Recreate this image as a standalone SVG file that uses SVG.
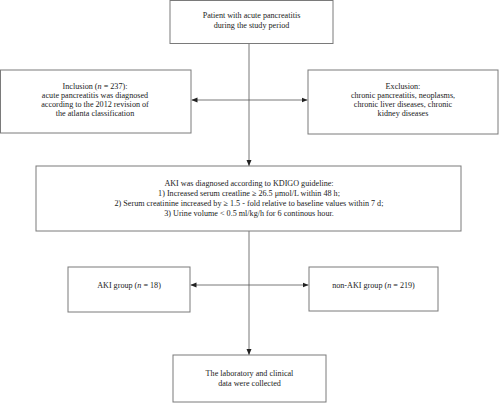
<svg xmlns="http://www.w3.org/2000/svg" width="500" height="403" viewBox="0 0 500 403">
<style>
.box{fill:#fff;stroke:#7a7a7a;stroke-width:1}
.ln{stroke:#555;stroke-width:0.8;fill:none}
text{font-family:"Liberation Serif","Times New Roman",serif;font-size:8.15px;fill:#222;text-anchor:middle}
</style>
<defs>
<marker id="ah" viewBox="0 0 6 6" refX="6" refY="3" markerWidth="6" markerHeight="6" markerUnits="userSpaceOnUse" orient="auto-start-reverse">
<path d="M0,0.5 L6,3 L0,5.5 Z" fill="#222"/>
</marker>
</defs>
<rect width="500" height="403" fill="#fff"/>
<g id="connectors">
<line class="ln" x1="249" y1="43" x2="249" y2="166" marker-end="url(#ah)"/>
<line class="ln" x1="191.5" y1="100" x2="307.5" y2="100" marker-start="url(#ah)" marker-end="url(#ah)"/>
<line class="ln" x1="249" y1="231" x2="249" y2="355" marker-end="url(#ah)"/>
<line class="ln" x1="190.5" y1="285" x2="308.5" y2="285" marker-start="url(#ah)" marker-end="url(#ah)"/>
</g>
<g id="patient">
<rect class="box" x="170" y="0.5" width="163" height="43"/>
<text x="251.5" y="17.5">Patient with acute pancreatitis</text>
<text x="251.5" y="27.5">during the study period</text>
</g>
<g id="inclusion">
<rect class="box" x="0.5" y="70" width="190.5" height="63"/>
<text x="95" y="88.5">Inclusion (<tspan font-style="italic">n</tspan> = 237):</text>
<text x="95" y="97.5">acute pancreatitis was diagnosed</text>
<text x="95" y="106.5">according to the 2012 revision of</text>
<text x="95" y="115.5">the atlanta classification</text>
</g>
<g id="exclusion">
<rect class="box" x="308" y="70" width="190" height="64"/>
<text x="403" y="88.5">Exclusion:</text>
<text x="403" y="97.5">chronic pancreatitis, neoplasms,</text>
<text x="403" y="106.5">chronic liver diseases, chronic</text>
<text x="403" y="115.5">kidney diseases</text>
</g>
<g id="aki-criteria">
<rect class="box" x="36" y="166" width="425" height="65"/>
<text x="249" y="185.5">AKI was diagnosed according to KDIGO guideline:</text>
<text x="249" y="195.5">1) Increased serum creatline ≥ 26.5 μmol/L within 48 h;</text>
<text x="249" y="205.5">2) Serum creatinine increased by ≥ 1.5 - fold relative to baseline values within 7 d;</text>
<text x="249" y="215.5">3) Urine volume &lt; 0.5 ml/kg/h for 6 continous hour.</text>
</g>
<g id="aki-group">
<rect class="box" x="68" y="267" width="122" height="45"/>
<text x="129" y="288">AKI group (<tspan font-style="italic">n</tspan> = 18)</text>
</g>
<g id="non-aki-group">
<rect class="box" x="309" y="267" width="129" height="44"/>
<text x="373.5" y="288">non-AKI group (<tspan font-style="italic">n</tspan> = 219)</text>
</g>
<g id="collected">
<rect class="box" x="173" y="355" width="153" height="47"/>
<text x="249.5" y="375.5">The laboratory and clinical</text>
<text x="249.5" y="385.5">data were collected</text>
</g>
</svg>
